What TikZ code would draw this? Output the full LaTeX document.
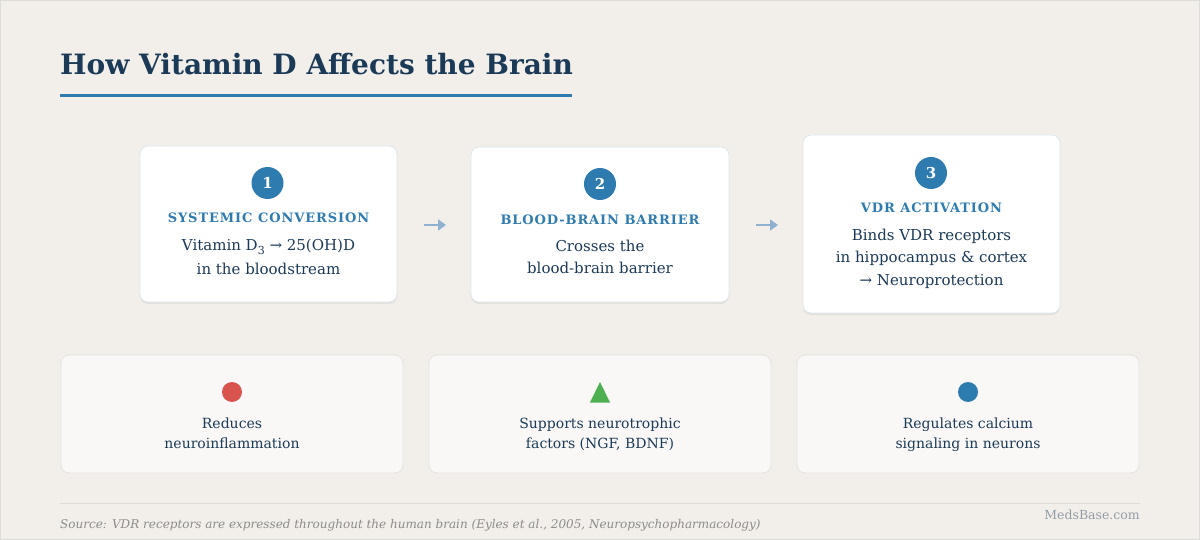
\documentclass[tikz,border=0pt]{standalone}
\usepackage{fontspec}
\setmainfont{DejaVu Serif}
\usetikzlibrary{shadows,arrows.meta}
\definecolor{bgc}{HTML}{F2EFEA}
\definecolor{navy}{HTML}{1B3A57}
\definecolor{accent}{HTML}{2E7BB0}
\definecolor{cardborder}{HTML}{DFE6ED}
\definecolor{softfill}{HTML}{F9F8F6}
\definecolor{softborder}{HTML}{E3E3E1}
\definecolor{redicon}{HTML}{D9534F}
\definecolor{greenicon}{HTML}{4CAF50}
\definecolor{arrowc}{HTML}{8FB0CF}
\definecolor{graytext}{HTML}{8C8C8A}
\definecolor{brandc}{HTML}{939CA6}
\definecolor{footline}{HTML}{DCDCD8}
\newcommand{\fsz}[1]{\fontsize{#1}{#1}\selectfont}
\tikzset{
  stepcard/.style={draw=cardborder, line width=0.8pt, fill=white, rounded corners=8pt,
    drop shadow={shadow xshift=0pt, shadow yshift=-2pt, opacity=0.06, fill=black}},
  effectcard/.style={draw=softborder, line width=0.8pt, fill=softfill, rounded corners=8pt},
  numbadge/.style={circle, fill=accent, minimum size=32pt, inner sep=0pt, text=white,
    font=\fsz{15}\bfseries},
  steptitle/.style={anchor=base, text=accent, font=\fsz{13}\bfseries\addfontfeature{LetterSpace=7}},
  bodytext/.style={anchor=base, text=navy, font=\fsz{15}},
  effecttext/.style={anchor=base, text=navy, font=\fsz{14}},
  flowarrow/.style={draw=arrowc, line width=2.6pt, -{Triangle[length=8pt,width=11pt]}},
}
\begin{document}
\begin{tikzpicture}[x=1pt,y=-1pt]
\useasboundingbox (0,0) rectangle (1200,540);
\fill[bgc] (0,0) rectangle (1200,540);
\draw[footline, line width=0.8pt] (0.5,0.5) rectangle (1199.5,539.5);

% title
\node[anchor=base west, text=navy, font=\fsz{28}\bfseries, inner sep=0pt] (title) at (60,75) {How Vitamin D Affects the Brain};
\draw[accent, line width=3pt] (60,96) -- (572,96);

% step cards
\node[stepcard, minimum width=257pt, minimum height=156pt] (c1) at (268.5,224) {};
\node[stepcard, minimum width=258pt, minimum height=155pt] (c2) at (600,224.5) {};
\node[stepcard, minimum width=257pt, minimum height=178pt] (c3) at (931.5,224) {};

\node[numbadge] (n1) at (267.5,183) {1};
\node[numbadge] (n2) at (600,184) {2};
\node[numbadge] (n3) at (931,173) {3};

\node[steptitle] (t1) at (268.5,222.5) {SYSTEMIC CONVERSION};
\node[bodytext] (b1a) at (268.5,250.5) {Vitamin D\raisebox{-0.3em}{\fsz{11}3} → 25(OH)D};
\node[bodytext] (b1b) at (268.5,274.5) {in the bloodstream};

\node[steptitle] (t2) at (600,224.5) {BLOOD-BRAIN BARRIER};
\node[bodytext] (b2a) at (600,252) {Crosses the};
\node[bodytext] (b2b) at (600,274) {blood-brain barrier};

\node[steptitle] (t3) at (931.5,213) {VDR ACTIVATION};
\node[bodytext] (b3a) at (931.5,240.5) {Binds VDR receptors};
\node[bodytext] (b3b) at (931.5,263) {in hippocampus \& cortex};
\node[bodytext] (b3c) at (931.5,285.5) {→ Neuroprotection};

% arrows between cards
\coordinate (a1s) at (424,225);
\coordinate (a1e) at (446,225);
\coordinate (a2s) at (756,225);
\coordinate (a2e) at (778,225);
\draw[flowarrow] (a1s) -- (a1e);
\draw[flowarrow] (a2s) -- (a2e);

% effect cards
\node[effectcard, minimum width=342pt, minimum height=118pt] (e1) at (232,414) {};
\node[effectcard, minimum width=342pt, minimum height=118pt] (e2) at (600,414) {};
\node[effectcard, minimum width=342pt, minimum height=118pt] (e3) at (968,414) {};

\fill[redicon] (232,392) circle (10pt);
\fill[greenicon] (600,382) -- (610,402.5) -- (590,402.5) -- cycle;
\fill[accent] (968,392) circle (10pt);

\node[effecttext] (e1a) at (232,428) {Reduces};
\node[effecttext] (e1b) at (232,448) {neuroinflammation};
\node[effecttext] (e2a) at (600,428) {Supports neurotrophic};
\node[effecttext] (e2b) at (600,448) {factors (NGF, BDNF)};
\node[effecttext] (e3a) at (968,428) {Regulates calcium};
\node[effecttext] (e3b) at (968,448) {signaling in neurons};

% footer
\draw[footline, line width=0.8pt] (60,503) -- (1140,503);
\node[anchor=base west, inner sep=0pt, text=graytext, font=\fsz{12}\itshape] (src) at (60,528)
  {Source: VDR receptors are expressed throughout the human brain (Eyles et al., 2005, Neuropsychopharmacology)};
\node[anchor=base east, inner sep=0pt, text=brandc, font=\fsz{12.5}] (brand) at (1140,519) {MedsBase.com};
\end{tikzpicture}
\end{document}
